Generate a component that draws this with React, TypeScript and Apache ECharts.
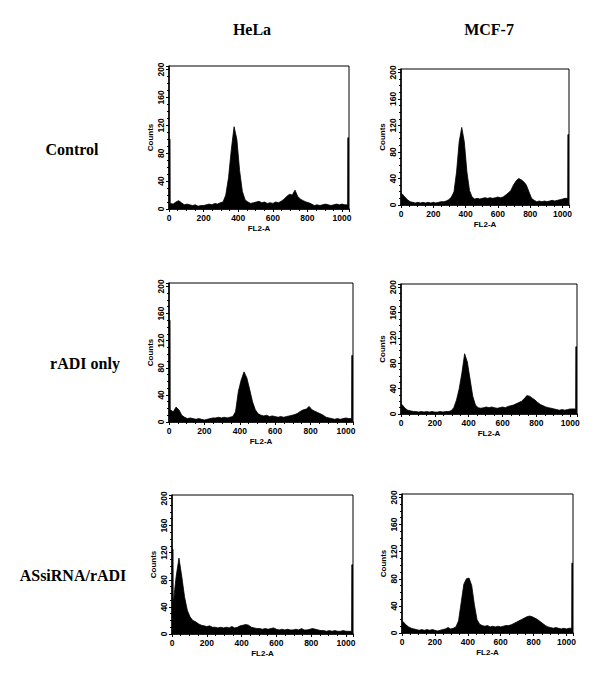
import React, { useEffect, useRef } from "react";
import * as echarts from "echarts";

// Bin centre channels (16-channel bins) for FL2-A histograms
const CHANNELS = [
  8, 24, 40, 56, 72, 88, 104, 120, 136, 152, 168, 184, 200, 216, 232, 248,
  264, 280, 296, 312, 328, 344, 360, 376, 392, 408, 424, 440, 456, 472, 488, 504,
  520, 536, 552, 568, 584, 600, 616, 632, 648, 664, 680, 696, 712, 728, 744, 760,
  776, 792, 808, 824, 840, 856, 872, 888, 904, 920, 936, 952, 968, 984, 1000, 1016,
];

const COLUMN_TITLES = ["HeLa", "MCF-7"];
const ROW_TITLES = ["Control", "rADI only", "ASsiRNA/rADI"];
const X_AXIS_NAME = "FL2-A";
const Y_AXIS_NAME = "Counts";

// Edge accumulation spikes (first / last channel)
const LEFT_SPIKES = [100, 17, 150, 15, 125, 17];
const RIGHT_SPIKES = [102, 106, 98, 106, 102, 103];

const helaControl = [
  8, 7, 10, 12, 9, 6, 7, 6, 5, 6, 4, 5, 5, 6, 7, 6,
  8, 7, 9, 10, 20, 45, 85, 118, 100, 55, 25, 13, 10, 8, 9, 10,
  11, 9, 10, 8, 9, 8, 10, 9, 11, 14, 18, 21, 20, 27, 18, 14,
  12, 10, 9, 7, 5, 6, 5, 6, 7, 6, 5, 6, 7, 6, 7, 6,
];
const mcfControl = [
  16, 12, 8, 5, 4, 3, 4, 3, 4, 3, 4, 3, 4, 3, 4, 5,
  5, 6, 8, 12, 20, 50, 95, 117, 95, 50, 22, 12, 9, 10, 9, 10,
  11, 10, 11, 10, 11, 12, 11, 12, 15, 18, 22, 30, 36, 40, 38, 35,
  30, 20, 10, 7, 5, 6, 5, 6, 5, 6, 7, 6, 7, 8, 9, 10,
];
const helaRadi = [
  18, 15, 22, 18, 10, 7, 5, 6, 5, 4, 5, 4, 3, 4, 5, 6,
  6, 7, 6, 7, 6, 7, 8, 15, 45, 62, 74, 65, 48, 30, 18, 12,
  10, 9, 10, 8, 9, 8, 7, 8, 7, 8, 9, 10, 11, 13, 16, 18,
  19, 23, 18, 16, 14, 12, 10, 7, 6, 5, 4, 5, 4, 5, 6, 5,
];
const mcfRadi = [
  15, 9, 6, 5, 4, 4, 3, 4, 3, 4, 3, 4, 3, 3, 4, 3,
  4, 4, 5, 10, 22, 40, 65, 95, 82, 55, 28, 14, 10, 9, 10, 11,
  10, 11, 10, 9, 10, 11, 10, 12, 13, 14, 16, 18, 20, 24, 29, 28,
  25, 22, 18, 15, 13, 11, 10, 9, 8, 7, 6, 7, 6, 7, 8, 8,
];
const helaSi = [
  45, 85, 112, 85, 55, 35, 25, 20, 18, 15, 13, 12, 11, 12, 10, 10,
  9, 10, 9, 10, 9, 11, 9, 10, 12, 13, 14, 13, 10, 9, 8, 8,
  7, 8, 7, 8, 9, 7, 6, 7, 6, 7, 6, 6, 7, 6, 8, 6,
  6, 7, 8, 7, 6, 5, 5, 4, 5, 4, 5, 4, 4, 5, 4, 4,
];
const mcfSi = [
  16, 12, 9, 7, 6, 5, 4, 5, 4, 5, 4, 5, 4, 3, 4, 5,
  6, 8, 6, 7, 9, 18, 45, 72, 80, 81, 70, 42, 20, 13, 11, 10,
  11, 9, 10, 9, 10, 9, 10, 11, 11, 12, 14, 16, 18, 20, 22, 24,
  25, 24, 22, 20, 17, 14, 11, 9, 8, 7, 8, 7, 6, 7, 6, 7,
];

const PANEL_VALUES = [helaControl, mcfControl, helaRadi, mcfRadi, helaSi, mcfSi];

// Layout of each plot box (pixels)
const BOXES = [
  { left: 169, top: 66, width: 180, height: 143 },
  { left: 401, top: 69, width: 168, height: 136 },
  { left: 169, top: 283, width: 184, height: 139 },
  { left: 401, top: 284, width: 176, height: 130 },
  { left: 172, top: 495, width: 181, height: 139 },
  { left: 402, top: 494, width: 171, height: 139 },
];

const X_MAX = 1040;
const Y_MAX = 205;

export default function App() {
  const ref = useRef<HTMLDivElement>(null);
  useEffect(() => {
    if (!ref.current) return;
    const chart = echarts.init(ref.current, undefined, { renderer: "svg" });
    const font = "'Liberation Sans', Arial, sans-serif";
    const grids: any[] = [];
    const xAxes: any[] = [];
    const yAxes: any[] = [];
    const series: any[] = [];
    PANEL_VALUES.forEach((vals, i) => {
      const b = BOXES[i];
      grids.push({
        left: b.left,
        top: b.top,
        width: b.width,
        height: b.height,
        show: true,
        borderColor: "#000",
        borderWidth: 1,
        backgroundColor: "#fff",
        containLabel: false,
      });
      xAxes.push({
        type: "value",
        gridIndex: i,
        min: 0,
        max: X_MAX,
        interval: 200,
        name: X_AXIS_NAME,
        nameLocation: "middle",
        nameGap: 15,
        nameTextStyle: { color: "#000", fontSize: 8, fontFamily: font, fontWeight: "bold" },
        axisLine: { show: true, lineStyle: { color: "#000", width: 1.5 } },
        axisTick: { show: true, inside: false, length: 3, lineStyle: { color: "#000", width: 1 } },
        minorTick: { show: true, splitNumber: 4, length: 2, lineStyle: { color: "#000", width: 1 } },
        axisLabel: {
          color: "#000",
          fontSize: 8.5,
          fontFamily: font,
          fontWeight: "bold",
          margin: 4,
          showMaxLabel: false,
          formatter: (v: number) => String(v),
        },
        splitLine: { show: false },
      });
      yAxes.push({
        type: "value",
        gridIndex: i,
        min: 0,
        max: Y_MAX,
        interval: 40,
        name: Y_AXIS_NAME,
        nameLocation: "middle",
        nameRotate: 90,
        nameGap: 15,
        nameTextStyle: { color: "#000", fontSize: 8, fontFamily: font, fontWeight: "bold" },
        axisLine: { show: true, lineStyle: { color: "#000", width: 1.5 } },
        axisTick: { show: true, inside: false, length: 3, lineStyle: { color: "#000", width: 1 } },
        minorTick: { show: true, splitNumber: 4, length: 2, lineStyle: { color: "#000", width: 1 } },
        axisLabel: {
          color: "#000",
          fontSize: 8.5,
          fontFamily: font,
          fontWeight: "bold",
          rotate: 90,
          margin: 4,
          showMaxLabel: false,
          formatter: (v: number) => String(v),
        },
        splitLine: { show: false },
      });
      const data: number[][] = [];
      data.push([0, LEFT_SPIKES[i]]);
      data.push([6, LEFT_SPIKES[i]]);
      data.push([7, vals[0]]);
      for (let k = 1; k < CHANNELS.length; k++) data.push([CHANNELS[k], vals[k]]);
      data.push([1032, vals[vals.length - 1]]);
      data.push([1033, RIGHT_SPIKES[i]]);
      data.push([X_MAX, RIGHT_SPIKES[i]]);
      series.push({
        type: "line",
        xAxisIndex: i,
        yAxisIndex: i,
        symbol: "none",
        data,
        lineStyle: { color: "#000", width: 0.8 },
        areaStyle: { color: "#000", opacity: 1 },
        silent: true,
      });
    });

    const serif = "'Liberation Serif', 'Times New Roman', serif";
    const t = (text: string, x: number, y: number) => ({
      type: "text",
      x,
      y,
      style: { text, font: `bold 16px ${serif}`, fill: "#000", align: "center", verticalAlign: "middle" },
    });
    const graphic: any[] = [
      t(COLUMN_TITLES[0], 252, 29),
      t(COLUMN_TITLES[1], 489, 29),
      t(ROW_TITLES[0], 72, 149),
      t(ROW_TITLES[1], 85, 363),
      t(ROW_TITLES[2], 73, 575),
    ];

    chart.setOption({
      animation: false,
      backgroundColor: "#fff",
      grid: grids,
      xAxis: xAxes,
      yAxis: yAxes,
      series,
      graphic,
    });
    return () => chart.dispose();
  }, []);
  return (
    <div
      ref={ref}
      style={{ position: "absolute", left: 0, top: 0, width: 600, height: 685 }}
    />
  );
}
